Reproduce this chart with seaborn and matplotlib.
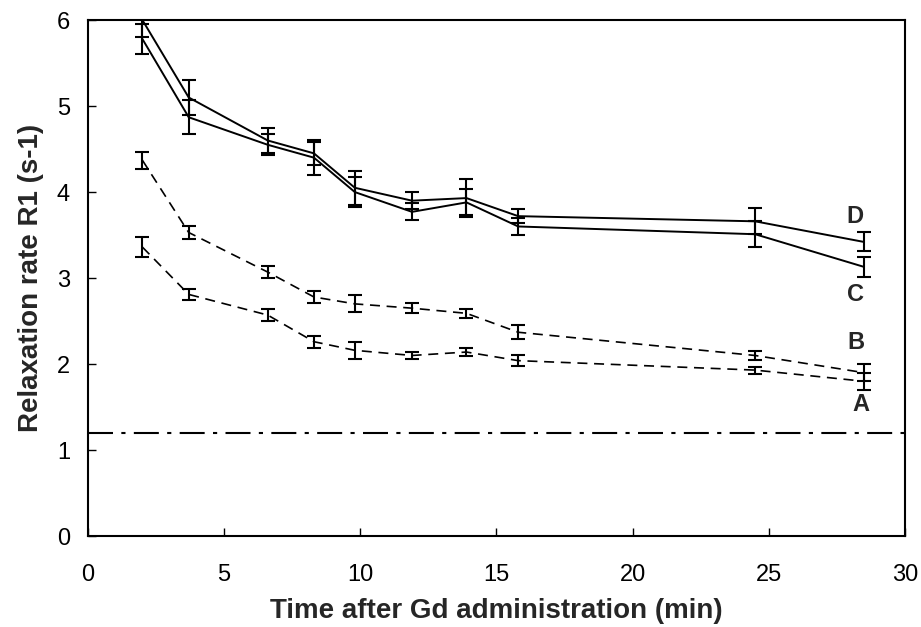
import numpy as np
import pandas as pd
import matplotlib
matplotlib.use("Agg")
import matplotlib.pyplot as plt
import seaborn as sns

# time points (min)
t = [2.0, 3.7, 6.6, 8.3, 9.8, 11.9, 13.9, 15.8, 24.5, 28.5]

# R1 values and error bars per group
r1_A = [3.36, 2.81, 2.57, 2.26, 2.16, 2.10, 2.14, 2.04, 1.93, 1.80]
err_A = [0.12, 0.06, 0.07, 0.07, 0.10, 0.04, 0.05, 0.06, 0.04, 0.10]
r1_B = [4.37, 3.53, 3.07, 2.78, 2.70, 2.65, 2.59, 2.37, 2.10, 1.90]
err_B = [0.10, 0.07, 0.07, 0.07, 0.10, 0.06, 0.05, 0.08, 0.05, 0.10]
r1_C = [5.78, 4.87, 4.55, 4.40, 4.00, 3.77, 3.88, 3.60, 3.51, 3.13]
err_C = [0.18, 0.20, 0.12, 0.20, 0.17, 0.10, 0.15, 0.10, 0.15, 0.12]
r1_D = [6.00, 5.10, 4.60, 4.45, 4.05, 3.90, 3.93, 3.72, 3.66, 3.42]
err_D = [0.20, 0.20, 0.15, 0.13, 0.20, 0.10, 0.22, 0.08, 0.15, 0.11]

baseline = 1.2

groups = ["A", "B", "C", "D"]
vals = {"A": (r1_A, err_A), "B": (r1_B, err_B), "C": (r1_C, err_C), "D": (r1_D, err_D)}
styles = {"A": (0, (6, 4)), "B": (0, (6, 4)), "C": "-", "D": "-"}
widths = {"A": 1.2, "B": 1.2, "C": 1.4, "D": 1.4}

rows = []
for g in groups:
    for x, y, e in zip(t, vals[g][0], vals[g][1]):
        rows.append({"time": x, "R1": y, "err": e, "group": g})
df = pd.DataFrame(rows)

sns.set_style("ticks")
plt.rcParams["font.family"] = ["Liberation Sans", "DejaVu Sans"]

fig = plt.figure(figsize=(9.21, 6.27), dpi=100)
ax = fig.add_axes([0.0955, 0.145, 0.887, 0.823])

for g in groups:
    d = df[df.group == g]
    sns.lineplot(data=d, x="time", y="R1", ax=ax, color="black",
                 linestyle=styles[g], linewidth=widths[g], legend=False)
    ax.errorbar(d["time"], d["R1"], yerr=d["err"], fmt="none", ecolor="black",
                elinewidth=1.5, capsize=5, capthick=1.5)

ax.axhline(baseline, color="black", linewidth=1.5, linestyle=(0, (12, 4, 2, 4)))

# curve labels
ax.text(28.15, r1_D[-1] + 0.3, "D", fontsize=17, fontweight="bold", ha="center", va="center")
ax.text(28.2, r1_C[-1] - 0.32, "C", fontsize=17, fontweight="bold", ha="center", va="center")
ax.text(28.2, r1_B[-1] + 0.35, "B", fontsize=17, fontweight="bold", ha="center", va="center")
ax.text(28.4, r1_A[-1] - 0.27, "A", fontsize=17, fontweight="bold", ha="center", va="center")

ax.set_xlim(0, 30)
ax.set_ylim(0, 6)
ax.set_xticks(range(0, 31, 5))
ax.set_yticks(range(0, 7))
ax.tick_params(axis="both", labelsize=17, length=6, width=1.0, direction="in", colors="black")
ax.tick_params(axis="x", pad=20)
ax.tick_params(axis="y", pad=13)
for s in ax.spines.values():
    s.set_visible(True)
    s.set_linewidth(1.5)
    s.set_color("black")

ax.set_xlabel("Time after Gd administration (min)", fontsize=20, fontweight="bold", labelpad=9)
ax.set_ylabel("Relaxation rate R1 (s-1)", fontsize=20, fontweight="bold", labelpad=9)

fig.savefig("out.png", dpi=100)
